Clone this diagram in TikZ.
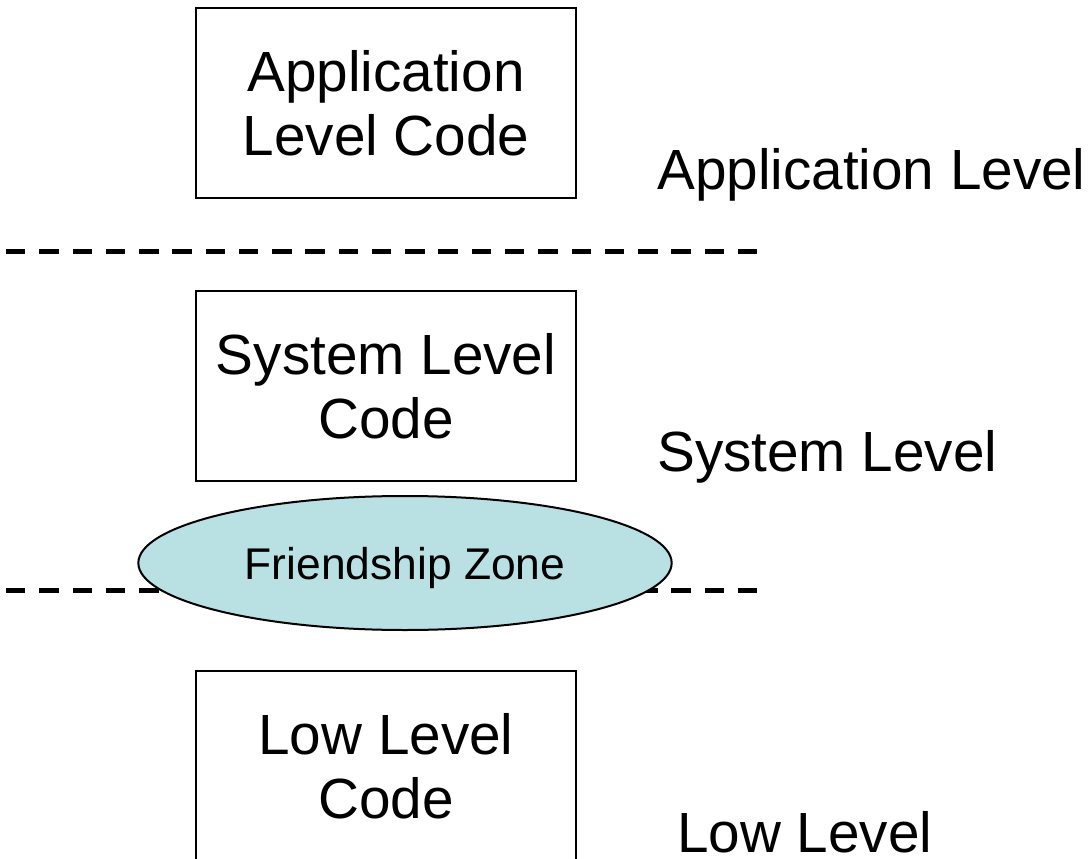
\documentclass[tikz,border=0pt]{standalone}
\usepackage{fontspec}
\setmainfont{Liberation Sans}
\usetikzlibrary{shapes.geometric}
\definecolor{zonefill}{RGB}{185,224,227}
\begin{document}
\begin{tikzpicture}[x=0.75pt,y=-0.75pt,
  codebox/.style={draw,line width=1.5pt,minimum width=285pt,minimum height=142.5pt,
    align=center,inner sep=0pt,font=\fontsize{42.5}{48}\selectfont},
  levellabel/.style={anchor=base west,inner sep=0pt,font=\fontsize{42.5}{48}\selectfont},
  divider/.style={line width=3.75pt,dash pattern=on 14.6pt off 10.35pt},
  zone/.style={ellipse,draw,line width=1.5pt,fill=zonefill,minimum width=400pt,minimum height=100.5pt,
    inner sep=0pt},
  zonetext/.style={anchor=base,inner sep=0pt,font=\fontsize{33.3}{38}\selectfont}]
\useasboundingbox (0,0) rectangle (1092,859);
\clip (0,0) rectangle (1092,859);
% boxes
\node[codebox] (app) at (386,103) {Application\\Level Code};
\node[codebox] (sys) at (386,386) {System Level\\Code};
\node[codebox] (low) at (386,766) {Low Level\\Code};
% dividers
\coordinate (d1a) at (6,252);
\coordinate (d1b) at (757,252);
\coordinate (d2a) at (6,590);
\coordinate (d2b) at (757,590);
\draw[divider] (d1a) -- (d1b);
\draw[divider] (d2a) -- (d2b);
% friendship zone
\node[zone] (fz) at (405,563) {};
\node[zonetext] (fzt) at (405,579) {Friendship Zone};
% level labels
\node[levellabel] (lapp) at (657,190) {Application Level};
\node[levellabel] (lsys) at (657,471) {System Level};
\node[levellabel] (llow) at (677,852) {Low Level};
\end{tikzpicture}
\end{document}
